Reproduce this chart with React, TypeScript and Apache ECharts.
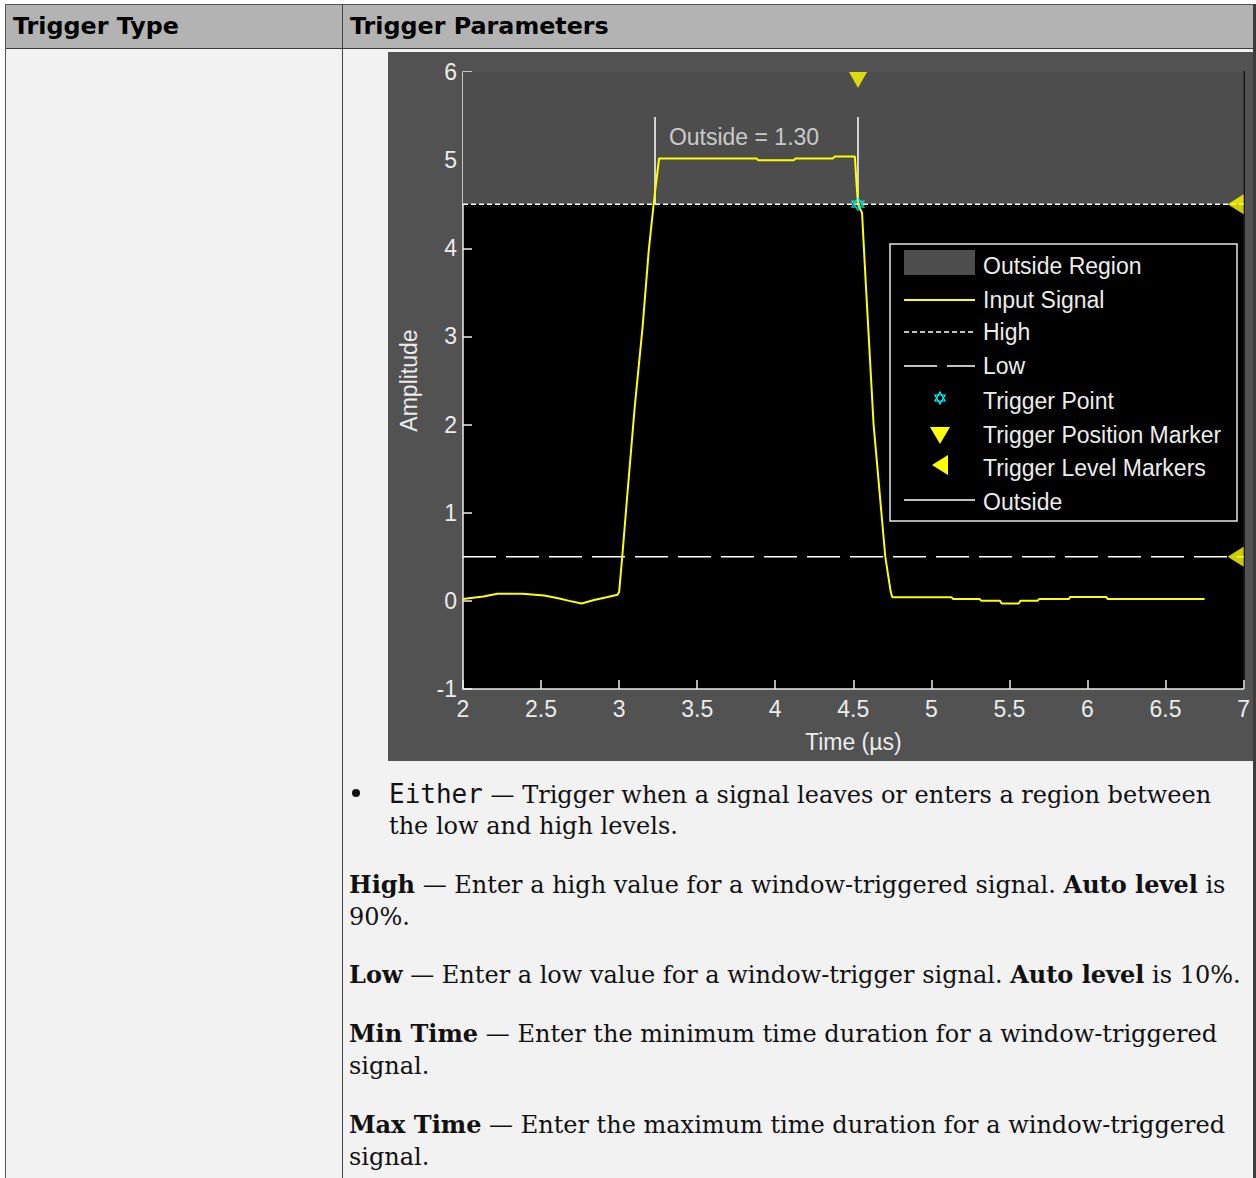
import React, { useEffect, useRef } from 'react';
import * as echarts from 'echarts';

// ---- data ----
const timeUs = [2.00, 2.13, 2.22, 2.38, 2.52, 2.61, 2.68, 2.76, 2.84, 2.92, 2.99, 3.00, 3.02, 3.05, 3.10, 3.15, 3.19, 3.22, 3.234, 3.256, 3.88, 3.89, 4.12, 4.13, 4.37, 4.38, 4.51, 4.52, 4.53, 4.556, 4.58, 4.63, 4.68, 4.705, 4.74, 4.75, 5.13, 5.14, 5.31, 5.32, 5.44, 5.45, 5.56, 5.57, 5.68, 5.69, 5.88, 5.89, 6.12, 6.13, 6.75];
const amplitude = [0.02, 0.05, 0.08, 0.08, 0.06, 0.03, 0.00, -0.03, 0.01, 0.04, 0.07, 0.10, 0.50, 1.15, 2.2, 3.1, 3.98, 4.48, 4.70, 5.02, 5.02, 5.00, 5.00, 5.02, 5.02, 5.04, 5.04, 4.75, 4.50, 4.40, 3.60, 2.00, 1.00, 0.50, 0.10, 0.04, 0.04, 0.02, 0.02, 0.00, 0.00, -0.03, -0.03, 0.00, 0.00, 0.02, 0.02, 0.045, 0.045, 0.02, 0.02];
const highLevel = 4.5;
const lowLevel = 0.5;
const triggerTime = 4.53;
const outsideStart = 3.23;
const outsideEnd = 4.53;
const outsideTop = 5.49;
const outsideLabel = 'Outside = 1.30';
const outsideLabelAt = [3.80, 5.26];
const xMin = 2, xMax = 7, xStep = 0.5;
const yMin = -1, yMax = 6, yStep = 1;
const legendNames = ['Outside Region', 'Input Signal', 'High', 'Low', 'Trigger Point', 'Trigger Position Marker', 'Trigger Level Markers', 'Outside'];

const headers = ['Trigger Type', 'Trigger Parameters'];

const FIG = '#525252';
const REGION = '#4d4d4d';
const YEL = '#ffff00';
const FG = '#ececec';
const CYAN = '#00ffff';
const SANS = '"Liberation Sans", Arial, sans-serif';
const FS = 23;

const hexPath = 'path://M0,-6L5.2,3L-5.2,3Z M0,6L5.2,-3L-5.2,-3Z';

function Chart() {
  const ref = useRef<HTMLDivElement>(null);
  useEffect(() => {
    if (!ref.current) return;
    const chart = echarts.init(ref.current, undefined, { renderer: 'svg' });
    const signal = timeUs.map((t, i) => [t, amplitude[i]]);
    const lx0 = 516, lx1 = 587, lcx = 552, tx = 595;
    const rowY = [214, 248, 280, 314, 349, 383, 416, 450];
    const legendGraphics: any[] = [
      { type: 'rect', z: 100, shape: { x: 502, y: 192, width: 347, height: 277 }, style: { fill: '#000', stroke: '#e6e6e6', lineWidth: 1.5 } },
      { type: 'rect', z: 101, shape: { x: lx0, y: 198, width: lx1 - lx0, height: 25 }, style: { fill: REGION } },
      { type: 'line', z: 101, shape: { x1: lx0, y1: rowY[1], x2: lx1, y2: rowY[1] }, style: { stroke: YEL, lineWidth: 2 } },
      { type: 'line', z: 101, shape: { x1: lx0, y1: rowY[2], x2: lx1, y2: rowY[2] }, style: { stroke: '#ffffff', lineWidth: 1.5, lineDash: [5, 3] } },
      { type: 'line', z: 101, shape: { x1: lx0, y1: rowY[3], x2: lx1, y2: rowY[3] }, style: { stroke: '#ffffff', lineWidth: 1.5, lineDash: [33, 10] } },
      { type: 'polygon', z: 101, shape: { points: [[lcx, 340], [lcx + 5, 349], [lcx - 5, 349]] }, style: { fill: 'none', stroke: CYAN, lineWidth: 1.2 } },
      { type: 'polygon', z: 101, shape: { points: [[lcx, 352], [lcx + 5, 343], [lcx - 5, 343]] }, style: { fill: 'none', stroke: CYAN, lineWidth: 1.2 } },
      { type: 'polygon', z: 101, shape: { points: [[lcx - 10, 375], [lcx + 10, 375], [lcx, 392]] }, style: { fill: YEL } },
      { type: 'polygon', z: 101, shape: { points: [[lcx - 8, 413], [lcx + 8, 403], [lcx + 8, 423]] }, style: { fill: YEL } },
      { type: 'line', z: 101, shape: { x1: lx0, y1: 448, x2: lx1, y2: 448 }, style: { stroke: '#ffffff', lineWidth: 1.5 } },
      ...legendNames.map((n, i) => ({
        type: 'text', z: 101, x: tx, y: rowY[i],
        style: { text: n, fill: FG, fontSize: FS, fontFamily: SANS, verticalAlign: 'middle', align: 'left' },
      })),
    ];
    const axisLineStyle = { color: FG, width: 1.5 };
    chart.setOption({
      animation: false,
      backgroundColor: FIG,
      grid: { left: 75, top: 20, width: 783, height: 617, show: true, backgroundColor: '#000', borderWidth: 0 },
      xAxis: {
        type: 'value', min: xMin, max: xMax, interval: xStep,
        axisLine: { show: true, onZero: false, lineStyle: axisLineStyle },
        axisTick: { show: true, inside: true, length: 9, lineStyle: axisLineStyle },
        axisLabel: { color: FG, fontSize: FS, fontFamily: SANS, margin: 8 },
        splitLine: { show: false },
        name: 'Time (µs)', nameLocation: 'middle', nameGap: 41,
        nameTextStyle: { color: FG, fontSize: FS, fontFamily: SANS },
      },
      yAxis: [
        {
          type: 'value', min: yMin, max: yMax, interval: yStep, position: 'left',
          axisLine: { show: true, onZero: false, lineStyle: axisLineStyle },
          axisTick: { show: true, inside: true, length: 9, lineStyle: axisLineStyle },
          axisLabel: { color: FG, fontSize: FS, fontFamily: SANS, margin: 6 },
          splitLine: { show: false },
          name: 'Amplitude', nameLocation: 'middle', nameGap: 43, nameRotate: 90,
          nameTextStyle: { color: FG, fontSize: FS, fontFamily: SANS },
        },
        {
          type: 'value', min: yMin, max: yMax, interval: yStep, position: 'right',
          axisLine: { show: true, onZero: false, lineStyle: { color: '#151515', width: 2 } },
          axisTick: { show: false }, axisLabel: { show: false }, splitLine: { show: false },
        },
      ],
      series: [
        {
          name: 'High', type: 'line', data: [[xMin, highLevel], [xMax, highLevel]], symbol: 'none', z: 3,
          lineStyle: { color: '#ffffff', width: 1.5, type: [5, 3] },
          markArea: {
            silent: true, itemStyle: { color: REGION },
            data: [[{ coord: [xMin, highLevel] }, { coord: [xMax, yMax] }]],
          },
        },
        {
          name: 'Low', type: 'line', data: [[xMin, lowLevel], [xMax, lowLevel]], symbol: 'none', z: 3,
          lineStyle: { color: '#ffffff', width: 1.5, type: [33, 10] },
        },
        {
          name: 'Outside', type: 'line', data: [[outsideStart, highLevel], [outsideStart, outsideTop]], symbol: 'none', z: 4,
          lineStyle: { color: '#ffffff', width: 1.5 },
        },
        {
          name: 'Outside', type: 'line', data: [[outsideEnd, highLevel], [outsideEnd, outsideTop]], symbol: 'none', z: 4,
          lineStyle: { color: '#ffffff', width: 1.5 },
        },
        {
          name: 'Input Signal', type: 'line', data: signal, symbol: 'none', z: 5,
          lineStyle: { color: YEL, width: 2 },
        },
        {
          name: 'Outside label', type: 'scatter', data: [outsideLabelAt], symbolSize: 1, z: 6,
          itemStyle: { color: 'rgba(0,0,0,0)' },
          label: { show: true, position: 'inside', formatter: outsideLabel, color: FG, fontSize: FS, fontFamily: SANS },
        },
        {
          name: 'Trigger Point', type: 'scatter', data: [[triggerTime, highLevel]], z: 7,
          symbol: hexPath, symbolSize: 12,
          itemStyle: { color: 'rgba(0,0,0,0)', borderColor: CYAN, borderWidth: 1.3 },
        },
        {
          name: 'Trigger Position Marker', type: 'scatter', data: [[triggerTime, yMax]], z: 7,
          symbol: 'triangle', symbolRotate: 180, symbolSize: [18, 16], symbolOffset: [0, 8],
          itemStyle: { color: YEL },
        },
        {
          name: 'Trigger Level Markers', type: 'scatter', data: [[xMax, highLevel], [xMax, lowLevel]], z: 7,
          symbol: 'triangle', symbolRotate: 90, symbolSize: [20, 16], symbolOffset: [-8, 0],
          itemStyle: { color: YEL },
        },
      ],
      graphic: legendGraphics,
    });
    return () => chart.dispose();
  }, []);
  return <div ref={ref} style={{ position: 'absolute', left: 388, top: 52, width: 865, height: 709 }} />;
}

const SERIF = '"DejaVu Serif", serif';
const MONO = '"DejaVu Sans Mono", monospace';

function Line({ x, cy, children }: { x: number; cy: number; children: React.ReactNode }) {
  return (
    <div style={{ position: 'absolute', left: x, top: cy - 16, height: 32, lineHeight: '32px', whiteSpace: 'nowrap', fontFamily: SERIF, fontSize: 24, color: '#111' }}>
      {children}
    </div>
  );
}

const headStyle: React.CSSProperties = { position: 'absolute', top: 10, height: 32, lineHeight: '32px', fontFamily: '"DejaVu Sans", sans-serif', fontWeight: 'bold', fontSize: 23.8, color: '#000', whiteSpace: 'nowrap' };

export default function App() {
  return (
    <div style={{ position: 'absolute', left: 0, top: 0, width: 1256, height: 1178, overflow: 'hidden', background: '#ffffff' }}>
      <div style={{ position: 'absolute', left: 5, top: 5, width: 1248, height: 43, background: '#b3b3b3' }} />
      <div style={{ position: 'absolute', left: 5, top: 49, width: 1248, height: 1129, background: '#f2f2f2' }} />
      <div style={{ position: 'absolute', left: 5, top: 48, width: 1248, height: 1, background: '#3a3a3a' }} />
      <div style={{ position: 'absolute', left: 5, top: 4, width: 1251, height: 1, background: '#555' }} />
      <div style={{ position: 'absolute', left: 5, top: 4, width: 1, height: 1174, background: '#555' }} />
      <div style={{ position: 'absolute', left: 342, top: 4, width: 1, height: 1174, background: '#444' }} />
      <div style={{ position: 'absolute', left: 1253, top: 4, width: 3, height: 1174, background: '#3d3d3d' }} />
      <div style={{ ...headStyle, left: 13 }}>{headers[0]}</div>
      <div style={{ ...headStyle, left: 350 }}>{headers[1]}</div>
      <Chart />
      <div style={{ position: 'absolute', left: 352, top: 789, width: 8, height: 8, borderRadius: 4, background: '#111' }} />
      <Line x={389} cy={794}><span style={{ fontFamily: MONO, fontSize: 26 }}>Either</span> — Trigger when a signal leaves or enters a region between</Line>
      <Line x={389} cy={826}>the low and high levels.</Line>
      <Line x={349} cy={885}><b>High</b> — Enter a high value for a window-triggered signal. <b>Auto level</b> is</Line>
      <Line x={349} cy={917}>90%.</Line>
      <Line x={349} cy={975}><b>Low</b> — Enter a low value for a window-trigger signal. <b>Auto level</b> is 10%.</Line>
      <Line x={349} cy={1034}><b>Min Time</b> — Enter the minimum time duration for a window-triggered</Line>
      <Line x={349} cy={1066}>signal.</Line>
      <Line x={349} cy={1125}><b>Max Time</b> — Enter the maximum time duration for a window-triggered</Line>
      <Line x={349} cy={1157}>signal.</Line>
    </div>
  );
}
